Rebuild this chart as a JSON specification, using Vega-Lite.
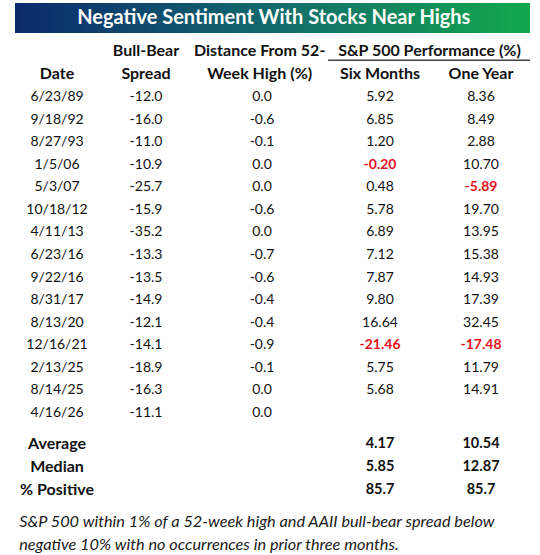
{
"$schema": "https://vega.github.io/schema/vega-lite/v6.json",
"width": 540, "height": 555, "autosize": "none", "padding": 0, "background": "white",
"config": {"view": {"stroke": null}, "text": {"font": "Lato", "color": "#111", "baseline": "middle", "align": "center"},
  "locale": {"number": {"decimal": ".", "thousands": ",", "grouping": [3], "currency": ["$", ""], "minus": "-"}}},
"datasets": {
  "banner": [{"title": "Negative Sentiment With Stocks Near Highs"}],
  "header": [
    {"level": 1, "Date": "", "Spread": "Bull-Bear", "Distance": "Distance From 52-", "Perf": "S&P 500 Performance (%)", "Six": "", "Year": ""},
    {"level": 2, "Date": "Date", "Spread": "Spread", "Distance": "Week High (%)", "Perf": "", "Six": "Six Months", "Year": "One Year"}
  ],
  "rows": [
    {"Date": "6/23/89", "Spread": -12.0, "Distance": 0.0, "Six": 5.92, "Year": 8.36},
    {"Date": "9/18/92", "Spread": -16.0, "Distance": -0.6, "Six": 6.85, "Year": 8.49},
    {"Date": "8/27/93", "Spread": -11.0, "Distance": -0.1, "Six": 1.20, "Year": 2.88},
    {"Date": "1/5/06", "Spread": -10.9, "Distance": 0.0, "Six": -0.20, "Year": 10.70},
    {"Date": "5/3/07", "Spread": -25.7, "Distance": 0.0, "Six": 0.48, "Year": -5.89},
    {"Date": "10/18/12", "Spread": -15.9, "Distance": -0.6, "Six": 5.78, "Year": 19.70},
    {"Date": "4/11/13", "Spread": -35.2, "Distance": 0.0, "Six": 6.89, "Year": 13.95},
    {"Date": "6/23/16", "Spread": -13.3, "Distance": -0.7, "Six": 7.12, "Year": 15.38},
    {"Date": "9/22/16", "Spread": -13.5, "Distance": -0.6, "Six": 7.87, "Year": 14.93},
    {"Date": "8/31/17", "Spread": -14.9, "Distance": -0.4, "Six": 9.80, "Year": 17.39},
    {"Date": "8/13/20", "Spread": -12.1, "Distance": -0.4, "Six": 16.64, "Year": 32.45},
    {"Date": "12/16/21", "Spread": -14.1, "Distance": -0.9, "Six": -21.46, "Year": -17.48},
    {"Date": "2/13/25", "Spread": -18.9, "Distance": -0.1, "Six": 5.75, "Year": 11.79},
    {"Date": "8/14/25", "Spread": -16.3, "Distance": 0.0, "Six": 5.68, "Year": 14.91},
    {"Date": "4/16/26", "Spread": -11.1, "Distance": 0.0, "Six": null, "Year": null}
  ],
  "summary": [
    {"Stat": "Average", "Six": 4.17, "Year": 10.54},
    {"Stat": "Median", "Six": 5.85, "Year": 12.87},
    {"Stat": "% Positive", "Six": 85.7, "Year": 85.7}
  ],
  "notes": [
    {"note": "S&P 500 within 1% of a 52-week high and AAII bull-bear spread below"},
    {"note": "negative 10% with no occurrences in prior three months."}
  ]
},
"resolve": {"scale": {"y": "independent"}},
"layer": [
  {
    "data": {"name": "banner"},
    "layer": [
      {"mark": {"type": "rect", "color": {"gradient": "linear", "x1": 0, "y1": 0, "x2": 1, "y2": 0, "stops": [{"offset": 0, "color": "#0b2a6d"}, {"offset": 0.5, "color": "#126a6c"}, {"offset": 1, "color": "#12a84c"}]}},
       "encoding": {
         "x": {"datum": 0, "type": "quantitative", "scale": {"domain": [0,1,2,3,4,5,6], "range": [15,57,146,262,380,481,530], "zero": false, "nice": false}, "axis": null},
         "x2": {"datum": 6},
         "y": {"datum": 0, "type": "quantitative", "scale": {"domain": [0, 1], "range": [3, 33], "zero": false, "nice": false}, "axis": null},
         "y2": {"datum": 1}}},
      {"mark": {"type": "text", "color": "white", "fontWeight": "bold", "fontSize": 20},
       "encoding": {
         "x": {"datum": 3.1, "type": "quantitative", "scale": {"domain": [0,1,2,3,4,5,6], "range": [15,57,146,262,380,481,530], "zero": false, "nice": false}, "axis": null},
         "y": {"datum": 0.5, "type": "quantitative", "scale": {"domain": [0, 1], "range": [3, 33], "zero": false, "nice": false}, "axis": null},
         "text": {"field": "title"}}}
    ]
  },
  {
    "data": {"name": "header"},
    "encoding": {"y": {"field": "level", "type": "quantitative", "scale": {"domain": [1, 2], "range": [51, 74], "zero": false, "nice": false}, "axis": null}},
    "layer": [
      {"mark": {"type": "text", "fontWeight": "bold", "fontSize": 16}, "encoding": {"x": {"datum": 1, "type": "quantitative", "scale": {"domain": [0,1,2,3,4,5,6], "range": [15,57,146,262,380,481,530], "zero": false, "nice": false}, "axis": null}, "text": {"field": "Date"}}},
      {"mark": {"type": "text", "fontWeight": "bold", "fontSize": 16}, "encoding": {"x": {"datum": 2, "type": "quantitative", "scale": {"domain": [0,1,2,3,4,5,6], "range": [15,57,146,262,380,481,530], "zero": false, "nice": false}, "axis": null}, "text": {"field": "Spread"}}},
      {"mark": {"type": "text", "fontWeight": "bold", "fontSize": 16}, "encoding": {"x": {"datum": 2.98, "type": "quantitative", "scale": {"domain": [0,1,2,3,4,5,6], "range": [15,57,146,262,380,481,530], "zero": false, "nice": false}, "axis": null}, "text": {"field": "Distance"}}},
      {"mark": {"type": "text", "fontWeight": "bold", "fontSize": 16}, "encoding": {"x": {"datum": 4.49, "type": "quantitative", "scale": {"domain": [0,1,2,3,4,5,6], "range": [15,57,146,262,380,481,530], "zero": false, "nice": false}, "axis": null}, "text": {"field": "Perf"}}},
      {"mark": {"type": "text", "fontWeight": "bold", "fontSize": 16}, "encoding": {"x": {"datum": 4, "type": "quantitative", "scale": {"domain": [0,1,2,3,4,5,6], "range": [15,57,146,262,380,481,530], "zero": false, "nice": false}, "axis": null}, "text": {"field": "Six"}}},
      {"mark": {"type": "text", "fontWeight": "bold", "fontSize": 16}, "encoding": {"x": {"datum": 5, "type": "quantitative", "scale": {"domain": [0,1,2,3,4,5,6], "range": [15,57,146,262,380,481,530], "zero": false, "nice": false}, "axis": null}, "text": {"field": "Year"}}},
      {"transform": [{"filter": "datum.level == 1"}],
       "mark": {"type": "rule", "color": "#444", "strokeWidth": 1.6},
       "encoding": {
         "x": {"datum": 3.56, "type": "quantitative", "scale": {"domain": [0,1,2,3,4,5,6], "range": [15,57,146,262,380,481,530], "zero": false, "nice": false}, "axis": null},
         "x2": {"datum": 6},
         "y": {"datum": 1.4, "type": "quantitative", "scale": {"domain": [1, 2], "range": [51, 74], "zero": false, "nice": false}, "axis": null}}}
    ]
  },
  {
    "data": {"name": "rows"},
    "encoding": {"y": {"field": "Date", "type": "nominal", "sort": null, "scale": {"type": "point", "padding": 0, "range": [97, 413], "domain": ["6/23/89","9/18/92","8/27/93","1/5/06","5/3/07","10/18/12","4/11/13","6/23/16","9/22/16","8/31/17","8/13/20","12/16/21","2/13/25","8/14/25","4/16/26"]}, "axis": null}},
    "layer": [
      {"mark": {"type": "text", "fontSize": 14}, "encoding": {"x": {"datum": 1, "type": "quantitative", "scale": {"domain": [0,1,2,3,4,5,6], "range": [15,57,146,262,380,481,530], "zero": false, "nice": false}, "axis": null}, "text": {"field": "Date"}}},
      {"mark": {"type": "text", "fontSize": 14}, "encoding": {"x": {"datum": 2, "type": "quantitative", "scale": {"domain": [0,1,2,3,4,5,6], "range": [15,57,146,262,380,481,530], "zero": false, "nice": false}, "axis": null}, "text": {"field": "Spread", "type": "quantitative", "format": ".1f"}}},
      {"mark": {"type": "text", "fontSize": 14}, "encoding": {"x": {"datum": 3, "type": "quantitative", "scale": {"domain": [0,1,2,3,4,5,6], "range": [15,57,146,262,380,481,530], "zero": false, "nice": false}, "axis": null}, "text": {"field": "Distance", "type": "quantitative", "format": ".1f"}}},
      {"transform": [{"filter": "isValid(datum.Six) && datum.Six >= 0"}],
       "mark": {"type": "text", "fontSize": 14}, "encoding": {"x": {"datum": 4, "type": "quantitative", "scale": {"domain": [0,1,2,3,4,5,6], "range": [15,57,146,262,380,481,530], "zero": false, "nice": false}, "axis": null}, "text": {"field": "Six", "type": "quantitative", "format": ".2f"}}},
      {"transform": [{"filter": "isValid(datum.Six) && datum.Six < 0"}],
       "mark": {"type": "text", "fontSize": 14, "fontWeight": "bold", "color": "#e3121c"}, "encoding": {"x": {"datum": 4, "type": "quantitative", "scale": {"domain": [0,1,2,3,4,5,6], "range": [15,57,146,262,380,481,530], "zero": false, "nice": false}, "axis": null}, "text": {"field": "Six", "type": "quantitative", "format": ".2f"}}},
      {"transform": [{"filter": "isValid(datum.Year) && datum.Year >= 0"}],
       "mark": {"type": "text", "fontSize": 14}, "encoding": {"x": {"datum": 5, "type": "quantitative", "scale": {"domain": [0,1,2,3,4,5,6], "range": [15,57,146,262,380,481,530], "zero": false, "nice": false}, "axis": null}, "text": {"field": "Year", "type": "quantitative", "format": ".2f"}}},
      {"transform": [{"filter": "isValid(datum.Year) && datum.Year < 0"}],
       "mark": {"type": "text", "fontSize": 14, "fontWeight": "bold", "color": "#e3121c"}, "encoding": {"x": {"datum": 5, "type": "quantitative", "scale": {"domain": [0,1,2,3,4,5,6], "range": [15,57,146,262,380,481,530], "zero": false, "nice": false}, "axis": null}, "text": {"field": "Year", "type": "quantitative", "format": ".2f"}}}
    ]
  },
  {
    "data": {"name": "summary"},
    "encoding": {"y": {"field": "Stat", "type": "nominal", "sort": null, "scale": {"type": "point", "padding": 0, "range": [444, 490], "domain": ["Average", "Median", "% Positive"]}, "axis": null}},
    "layer": [
      {"mark": {"type": "text", "fontSize": 16, "fontWeight": "bold"}, "encoding": {"x": {"datum": 1, "type": "quantitative", "scale": {"domain": [0,1,2,3,4,5,6], "range": [15,57,146,262,380,481,530], "zero": false, "nice": false}, "axis": null}, "text": {"field": "Stat"}}},
      {"mark": {"type": "text", "fontSize": 14.5, "fontWeight": "bold"}, "encoding": {"x": {"datum": 4, "type": "quantitative", "scale": {"domain": [0,1,2,3,4,5,6], "range": [15,57,146,262,380,481,530], "zero": false, "nice": false}, "axis": null}, "text": {"field": "Six", "type": "quantitative", "format": ".2~f"}}},
      {"mark": {"type": "text", "fontSize": 14.5, "fontWeight": "bold"}, "encoding": {"x": {"datum": 5, "type": "quantitative", "scale": {"domain": [0,1,2,3,4,5,6], "range": [15,57,146,262,380,481,530], "zero": false, "nice": false}, "axis": null}, "text": {"field": "Year", "type": "quantitative", "format": ".2~f"}}}
    ]
  },
  {
    "data": {"name": "notes"},
    "mark": {"type": "text", "align": "left", "fontSize": 16.3, "fontStyle": "italic", "color": "#1a1a1a"},
    "encoding": {
      "x": {"datum": 0.1, "type": "quantitative", "scale": {"domain": [0,1,2,3,4,5,6], "range": [15,57,146,262,380,481,530], "zero": false, "nice": false}, "axis": null},
      "y": {"field": "note", "type": "nominal", "sort": null, "scale": {"type": "point", "padding": 0, "range": [522, 545]}, "axis": null},
      "text": {"field": "note"}}
  }
]
}
